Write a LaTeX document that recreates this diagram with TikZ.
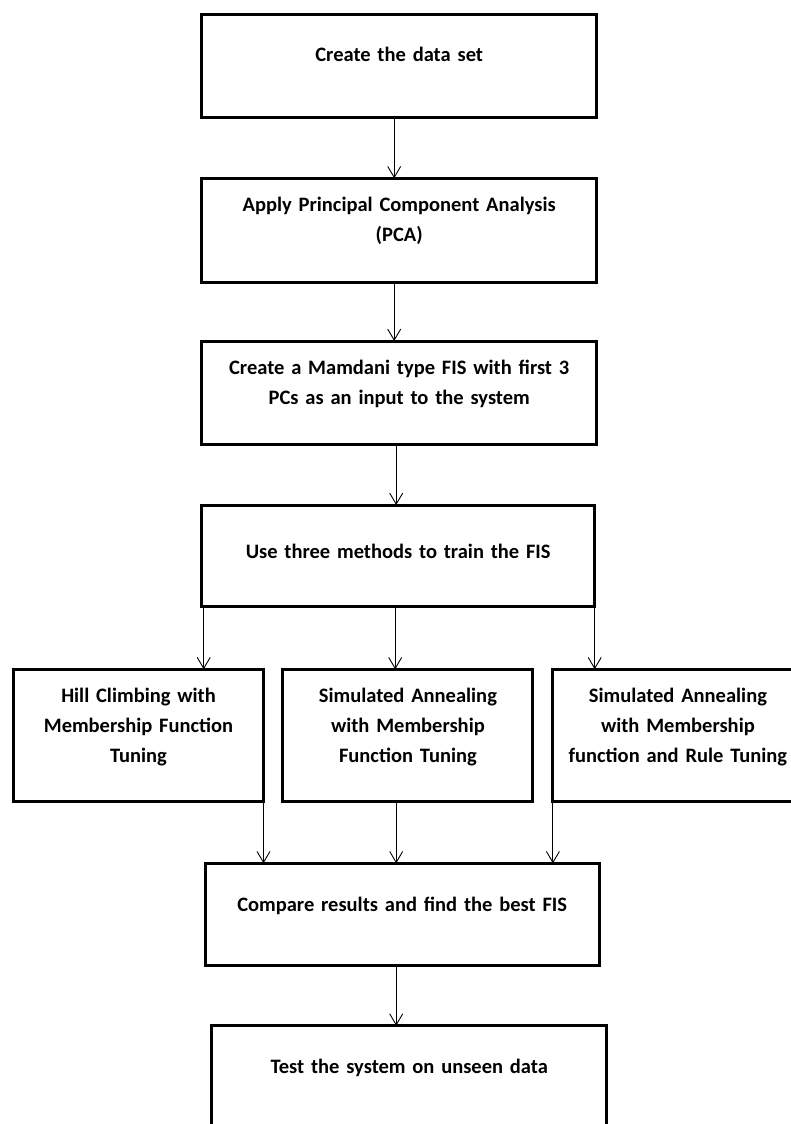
\documentclass[tikz,border=0pt]{standalone}
\usepackage{fontspec}
\setmainfont{Carlito}
\usetikzlibrary{positioning, arrows.meta}

\begin{document}
\begin{tikzpicture}[x=1pt, y=-1pt, >={Straight Barb[length=11pt, width=13pt]},
    every node/.style={font=\fontsize{20.5}{30}\selectfont\bfseries},
    stepbox/.style={draw, line width=3pt, inner sep=0pt, outer sep=0pt,
        minimum width=395pt, text width=385pt, align=center},
    methodbox/.style={stepbox, minimum width=250pt, text width=244pt},
    link/.style={->, line width=0.9pt}]

    \useasboundingbox (0,0) rectangle (791,1124);
    \clip (0,0) rectangle (791,1124);

    % MAIN STEPS
    \node[stepbox, anchor=north, text height=46.8pt, text depth=55.8pt] (data) at (399.2,14.7) {Create the data set};
    \node[stepbox, text height=33.2pt, text depth=70.8pt] (pca) [below=61pt of data] {Apply Principal Component Analysis\\(PCA)};
    \node[stepbox, text height=33.8pt, text depth=69.5pt] (mamdani) [below=58.7pt of pca] {Create a Mamdani type FIS with first 3\\PCs as an input to the system};
    \node[stepbox, text height=53.2pt, text depth=48.5pt, minimum width=393pt] (train) [below=60.7pt of mamdani, xshift=-1pt] {Use three methods to train the FIS};

    % TRAINING METHODS
    \node[methodbox, text height=32.9pt, text depth=99.5pt] (sima) [below=62.6pt of train, xshift=9.7pt] {Simulated Annealing\\with Membership\\Function Tuning};
    \node[methodbox, text height=32.9pt, text depth=99.5pt] (hill) [left=19.4pt of sima] {Hill Climbing with\\Membership Function\\Tuning};
    \node[methodbox, text height=32.9pt, text depth=99.5pt] (rule) [right=20pt of sima] {Simulated Annealing\\with Membership\\function and Rule Tuning};

    % RESULTS
    \node[stepbox, text height=48.2pt, text depth=53.5pt, minimum width=394pt] (compare) [below=61.6pt of sima, xshift=-5.7pt] {Compare results and find the best FIS};
    \node[stepbox, text height=47.5pt, text depth=56pt] (test) [below=60.7pt of compare, xshift=7pt] {Test the system on unseen data};

    % ARROWS
    \draw[link] ([xshift=-5pt]data.south) -- ([xshift=-5pt]pca.north);
    \draw[link] ([xshift=-5pt]pca.south) -- ([xshift=-5pt]pca.south |- mamdani.north);
    \draw[link] ([xshift=-3pt]mamdani.south) -- ([xshift=-3pt]mamdani.south |- train.north);
    \draw[link] ([xshift=2pt]train.south west) -- ([xshift=2pt]train.south west |- hill.north);
    \draw[link] ([xshift=-3pt]train.south) -- ([xshift=-3pt]train.south |- sima.north);
    \draw[link] (train.south east) -- (train.south east |- rule.north);
    \draw[link] (hill.south east) -- (hill.south east |- compare.north);
    \draw[link] ([xshift=-6pt]compare.north |- sima.south) -- ([xshift=-6pt]compare.north);
    \draw[link] (rule.south west) -- (rule.south west |- compare.north);
    \draw[link] ([xshift=-6pt]compare.south) -- ([xshift=-6pt]compare.south |- test.north);
\end{tikzpicture}
\end{document}
